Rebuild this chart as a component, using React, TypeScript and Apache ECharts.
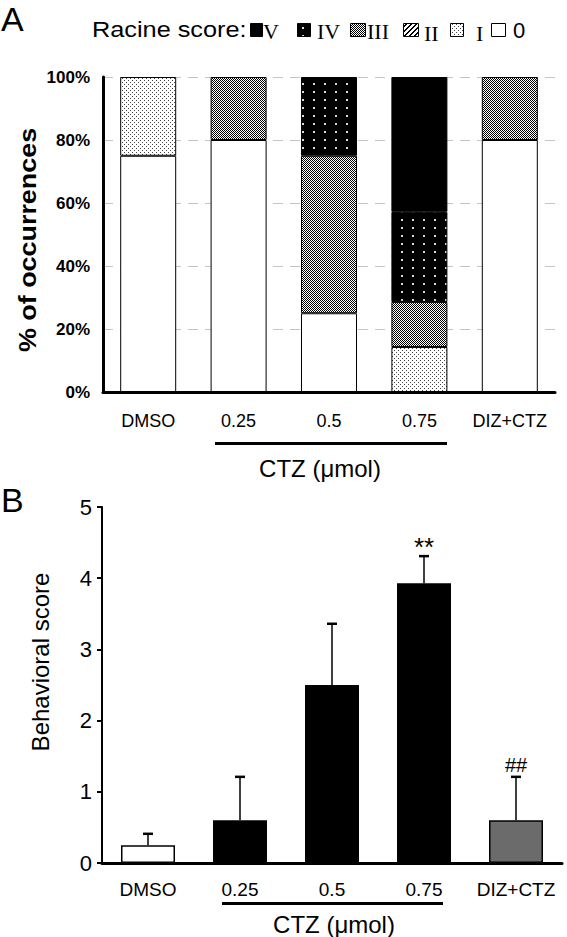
import React, { useEffect, useRef } from "react";
import * as echarts from "echarts";

// ---------- data ----------
const categories = ["DMSO", "0.25", "0.5", "0.75", "DIZ+CTZ"];
// Panel A: % of occurrences of each Racine score (stacked bottom-up: 0, I, II, III, IV, V)
const racine0 = [75, 80, 25, 0, 80];
const racineI = [25, 0, 0, 14.3, 0];
const racineII = [0, 0, 0, 0, 0];
const racineIII = [0, 20, 50, 14.3, 20];
const racineIV = [0, 0, 25, 28.6, 0];
const racineV = [0, 0, 0, 42.8, 0];
const pctTicks = [0, 20, 40, 60, 80, 100];
// Panel B: behavioral score mean and SD
const behMean = [0.25, 0.6, 2.5, 3.93, 0.6];
const behSD = [0.16, 0.61, 0.86, 0.38, 0.61];
const sigMarks = ["", "", "", "**", "##"];
const scoreTicks = [0, 1, 2, 3, 4, 5];

const FONT = "'Liberation Sans', Arial, sans-serif";
const SERIF = "'Liberation Serif', 'Times New Roman', serif";

function makePattern(w: number, h: number, draw: (ctx: CanvasRenderingContext2D) => void) {
  const c = document.createElement("canvas");
  c.width = w;
  c.height = h;
  const ctx = c.getContext("2d") as CanvasRenderingContext2D;
  draw(ctx);
  return { image: c.toDataURL(), repeat: "repeat", imageWidth: w, imageHeight: h } as any;
}

export default function App() {
  const ref = useRef<HTMLDivElement>(null);

  useEffect(() => {
    if (!ref.current) return;
    const chart = echarts.init(ref.current, undefined, { renderer: "svg" });

    // patterns
    const patI = makePattern(4, 4, (ctx) => {
      ctx.fillStyle = "#fff";
      ctx.fillRect(0, 0, 4, 4);
      ctx.fillStyle = "#444";
      ctx.fillRect(0, 0, 1, 1);
      ctx.fillRect(2, 2, 1, 1);
    });
    const patII = makePattern(5, 5, (ctx) => {
      ctx.fillStyle = "#fff";
      ctx.fillRect(0, 0, 5, 5);
      ctx.fillStyle = "#000";
      for (let i = 0; i < 5; i++) {
        ctx.fillRect(i, 4 - i, 1, 1);
        ctx.fillRect((i + 1) % 5, 4 - i, 1, 1);
      }
    });
    const patIII = makePattern(2, 2, (ctx) => {
      ctx.fillStyle = "#fff";
      ctx.fillRect(0, 0, 2, 2);
      ctx.fillStyle = "#000";
      ctx.fillRect(0, 0, 1, 1);
      ctx.fillRect(1, 1, 1, 1);
    });
    const patIV = makePattern(11, 8, (ctx) => {
      ctx.fillStyle = "#000";
      ctx.fillRect(0, 0, 11, 8);
      ctx.fillStyle = "#d8d8d8";
      ctx.fillRect(5, 3, 2, 2);
    });

    const stackDefs = [
      { name: "0", data: racine0, color: "#ffffff" },
      { name: "I", data: racineI, color: patI },
      { name: "II", data: racineII, color: patII },
      { name: "III", data: racineIII, color: patIII },
      { name: "IV", data: racineIV, color: patIV },
      { name: "V", data: racineV, color: "#000000" },
    ];

    const barColorsB = ["#ffffff", "#000000", "#000000", "#000000", "#6b6b6b"];
    const sigFont = ["", "", "", `26px ${FONT}`, `20px ${FONT}`];
    const sigLift = [0, 0, 0, -5, 1];

    const legendItems = [
      { label: "V", fill: "#000", x: 250, w: 12, tx: 263, ty: 31 },
      { label: "IV", fill: patIV, x: 297, w: 13, tx: 317, ty: 31 },
      { label: "III", fill: patIII, x: 350, w: 15, tx: 367, ty: 31 },
      { label: "II", fill: patII, x: 403, w: 15, tx: 424, ty: 33 },
      { label: "I", fill: patI, x: 450, w: 13, tx: 476, ty: 33 },
      { label: "0", fill: "#fff", x: 491, w: 14, tx: 513, ty: 30 },
    ];

    const graphic: any[] = [
      { type: "text", x: 1, y: 19, style: { text: "A", font: `34px ${FONT}`, fill: "#000", textAlign: "left", textVerticalAlign: "middle" } },
      { type: "text", x: 1, y: 500, style: { text: "B", font: `34px ${FONT}`, fill: "#000", textAlign: "left", textVerticalAlign: "middle" } },
      { type: "text", x: 92, y: 30, scaleX: 1.15, style: { text: "Racine score:", font: `22px ${FONT}`, fill: "#000", textAlign: "left", textVerticalAlign: "middle" } },
      ...legendItems.map((it) => ({
        type: "rect",
        shape: { x: it.x + 0.5, y: 23.5, width: it.w, height: 13 },
        style: { fill: it.fill, stroke: "#000", lineWidth: 1 },
      })),
      ...legendItems.map((it) => ({
        type: "text",
        x: it.tx,
        y: it.ty,
        style: {
          text: it.label,
          font: it.label === "0" ? `22px ${FONT}` : `22px ${SERIF}`,
          fill: "#000",
          textAlign: "left",
          textVerticalAlign: "middle",
        },
      })),
      {
        type: "text",
        x: 28,
        y: 240,
        rotation: Math.PI / 2,
        scaleX: 1.17,
        style: { text: "% of occurrences", font: `bold 23px ${FONT}`, fill: "#000", textAlign: "center", textVerticalAlign: "middle" },
      },
      {
        type: "text",
        x: 40,
        y: 662,
        rotation: Math.PI / 2,
        style: { text: "Behavioral score", font: `24px ${FONT}`, fill: "#000", textAlign: "center", textVerticalAlign: "middle" },
      },
      { type: "line", shape: { x1: 215, y1: 443.5, x2: 447, y2: 443.5 }, style: { stroke: "#000", lineWidth: 3 } },
      { type: "text", x: 320, y: 468, style: { text: "CTZ (μmol)", font: `24px ${FONT}`, fill: "#000", textAlign: "center", textVerticalAlign: "middle" } },
      { type: "line", shape: { x1: 222, y1: 903.5, x2: 443, y2: 903.5 }, style: { stroke: "#000", lineWidth: 3 } },
      { type: "text", x: 334, y: 924, style: { text: "CTZ (μmol)", font: `24px ${FONT}`, fill: "#000", textAlign: "center", textVerticalAlign: "middle" } },
    ];

    const option: any = {
      animation: false,
      backgroundColor: "#fff",
      textStyle: { fontFamily: FONT },
      grid: [
        { left: 103, top: 77, width: 452, height: 315, containLabel: false },
        { left: 102, top: 507, width: 460, height: 356, containLabel: false },
      ],
      xAxis: [
        {
          type: "category",
          gridIndex: 0,
          data: categories,
          axisLine: { show: true, lineStyle: { color: "#000", width: 3 } },
          axisTick: { show: false },
          axisLabel: { color: "#000", fontSize: 18, margin: 20, fontFamily: FONT, interval: 0, hideOverlap: false },
        },
        {
          type: "category",
          gridIndex: 1,
          data: categories,
          axisLine: { show: true, lineStyle: { color: "#000", width: 3 } },
          axisTick: { show: false },
          axisLabel: { color: "#000", fontSize: 19, margin: 17, fontFamily: FONT, interval: 0, hideOverlap: false },
        },
      ],
      yAxis: [
        {
          type: "value",
          gridIndex: 0,
          min: pctTicks[0],
          max: pctTicks[pctTicks.length - 1],
          interval: 20,
          axisLine: { show: true, lineStyle: { color: "#000", width: 3 } },
          axisTick: { show: false },
          axisLabel: { color: "#000", fontSize: 17, fontWeight: "bold", margin: 13, formatter: "{value}%", fontFamily: FONT },
          splitLine: { show: true, lineStyle: { color: "#c4c4c4", width: 1, type: [10, 7] } },
        },
        {
          type: "value",
          gridIndex: 1,
          min: scoreTicks[0],
          max: scoreTicks[scoreTicks.length - 1],
          interval: 1,
          axisLine: { show: true, lineStyle: { color: "#000", width: 2 } },
          axisTick: { show: true, inside: false, length: 5, lineStyle: { color: "#000", width: 2 } },
          axisLabel: { color: "#000", fontSize: 22, margin: 10, fontFamily: FONT },
          splitLine: { show: false },
        },
      ],
      series: [
        ...stackDefs.map((s) => ({
          type: "bar",
          name: s.name,
          xAxisIndex: 0,
          yAxisIndex: 0,
          stack: "racine",
          barWidth: 56,
          data: s.data.map((v) => (v === 0 ? "-" : v)),
          itemStyle: { color: s.color, borderColor: "#000", borderWidth: 1 },
          emphasis: { disabled: true },
          silent: true,
        })),
        {
          type: "bar",
          name: "Behavioral score",
          xAxisIndex: 1,
          yAxisIndex: 1,
          barWidth: 54,
          data: behMean.map((v, i) => ({ value: v, itemStyle: { color: barColorsB[i] } })),
          itemStyle: { borderColor: "#000", borderWidth: 1.5 },
          emphasis: { disabled: true },
          silent: true,
        },
        {
          type: "custom",
          name: "SD",
          xAxisIndex: 1,
          yAxisIndex: 1,
          z: 5,
          silent: true,
          data: behMean.map((m, i) => [i, m, m + behSD[i]]),
          renderItem: (params: any, api: any) => {
            const idx = api.value(0);
            const i = params.dataIndex;
            const base = api.coord([idx, api.value(1)]);
            const top = api.coord([idx, api.value(2)]);
            const sig = sigMarks[i];
            const children: any[] = [
              { type: "line", shape: { x1: base[0], y1: base[1], x2: base[0], y2: top[1] }, style: { stroke: "#000", lineWidth: 1.5 } },
              { type: "line", shape: { x1: base[0] - 5, y1: top[1], x2: base[0] + 5, y2: top[1] }, style: { stroke: "#000", lineWidth: 2.5 } },
            ];
            if (sig) {
              children.push({
                type: "text",
                style: { text: sig, x: base[0], y: top[1] - 1 - sigLift[i], textAlign: "center", textVerticalAlign: "bottom", font: sigFont[i], fill: "#000" },
              });
            }
            return { type: "group", children };
          },
        },
      ],
      graphic,
    };

    chart.setOption(option);
    return () => chart.dispose();
  }, []);

  return <div ref={ref} style={{ position: "fixed", left: 0, top: 0, width: 567, height: 937, background: "#fff" }} />;
}
